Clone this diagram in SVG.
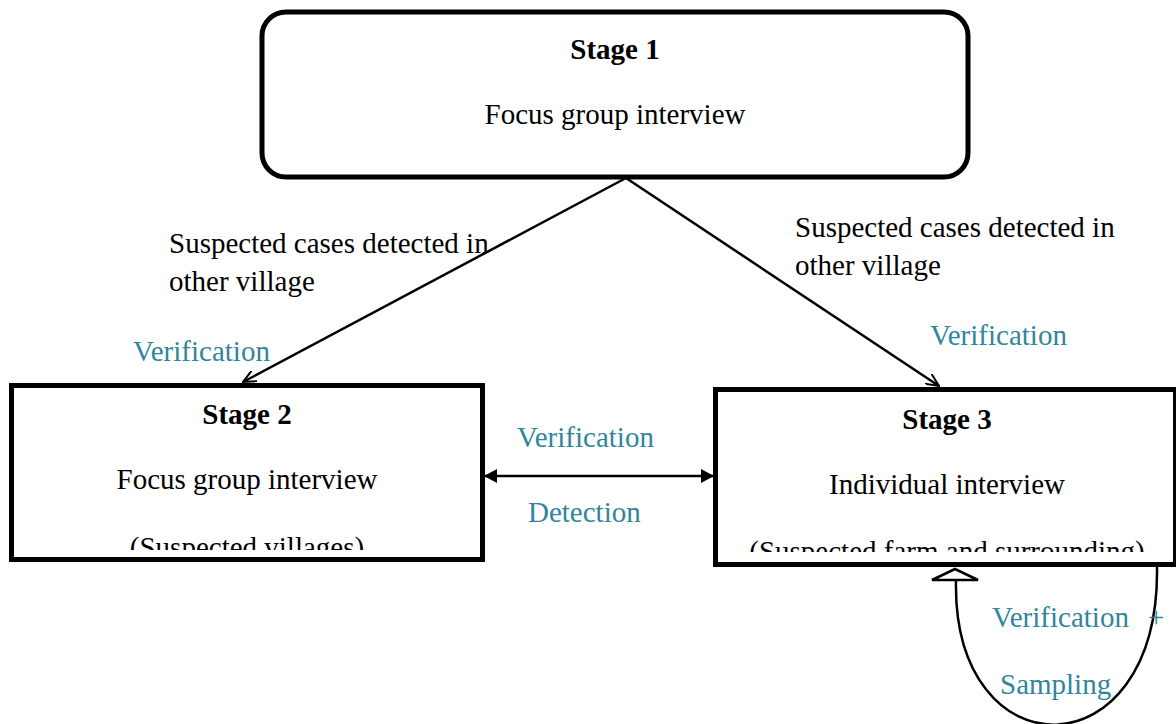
<svg xmlns="http://www.w3.org/2000/svg" width="1176" height="724" viewBox="0 0 1176 724">
<style>
  text { font-family: "Liberation Serif", "Times New Roman", serif; font-size: 29px; fill: #000; }
  .b { font-weight: bold; }
  .t { fill: #31859C; }
  .m { text-anchor: middle; }
  .box { fill: #fff; stroke: #000; stroke-width: 5; }
  .ln { fill: none; stroke: #000; stroke-width: 2.5; }
</style>
<defs>
  <marker id="open" viewBox="0 0 14 12" refX="13" refY="6" markerWidth="14" markerHeight="12" markerUnits="userSpaceOnUse" orient="auto">
    <path d="M0,0 L13,6 L0,12" fill="none" stroke="#000" stroke-width="2"/>
  </marker>
  <marker id="fill" viewBox="0 0 13 14" refX="13" refY="7" markerWidth="13" markerHeight="14" markerUnits="userSpaceOnUse" orient="auto-start-reverse">
    <path d="M0,0 L13,7 L0,14 Z" fill="#000"/>
  </marker>
  <clipPath id="c2"><rect x="14" y="388" width="466" height="162"/></clipPath>
  <clipPath id="c3"><rect x="718" y="392" width="458" height="160"/></clipPath>
</defs>

<g id="connectors">
  <line class="ln" x1="626" y1="178" x2="243" y2="382" marker-end="url(#open)"/>
  <line class="ln" x1="626" y1="178" x2="939" y2="386" marker-end="url(#open)"/>
  <line class="ln" x1="484" y1="476" x2="714" y2="476" marker-start="url(#fill)" marker-end="url(#fill)"/>
  <path class="ln" stroke-width="3" d="M1157,567 C1160,775 952,775 956,580"/>
  <polygon points="955,569 932,580 978,580" fill="#fff" stroke="#000" stroke-width="2.5"/>
</g>

<g id="node-stage1">
  <rect class="box" x="262" y="12" width="706" height="165" rx="24" ry="24"/>
  <text class="b m" x="615" y="59">Stage 1</text>
  <text class="m" x="615" y="124">Focus group interview</text>
</g>

<g id="node-stage2">
  <rect class="box" x="11.5" y="385.5" width="471" height="174"/>
  <g clip-path="url(#c2)">
    <text class="b m" x="247" y="424">Stage 2</text>
    <text class="m" x="247" y="489">Focus group interview</text>
    <text class="m" x="247" y="557">(Suspected villages)</text>
  </g>
</g>

<g id="node-stage3">
  <rect class="box" x="715.5" y="389.5" width="460" height="175"/>
  <g clip-path="url(#c3)">
    <text class="b m" x="947" y="429">Stage 3</text>
    <text class="m" x="947" y="494">Individual interview</text>
    <text class="m" x="947" y="561">(Suspected farm and surrounding)</text>
  </g>
</g>

<g id="labels">
  <text x="169" y="253">Suspected cases detected in</text>
  <text x="169" y="291">other village</text>
  <text x="795" y="237">Suspected cases detected in</text>
  <text x="795" y="275">other village</text>
  <text class="t" x="133" y="361">Verification</text>
  <text class="t" x="930" y="345">Verification</text>
  <text class="t" x="517" y="447">Verification</text>
  <text class="t" x="528" y="522">Detection</text>
  <text class="t" x="992" y="627">Verification<tspan x="1148">+</tspan></text>
  <text class="t" x="1000" y="694">Sampling</text>
</g>
</svg>
